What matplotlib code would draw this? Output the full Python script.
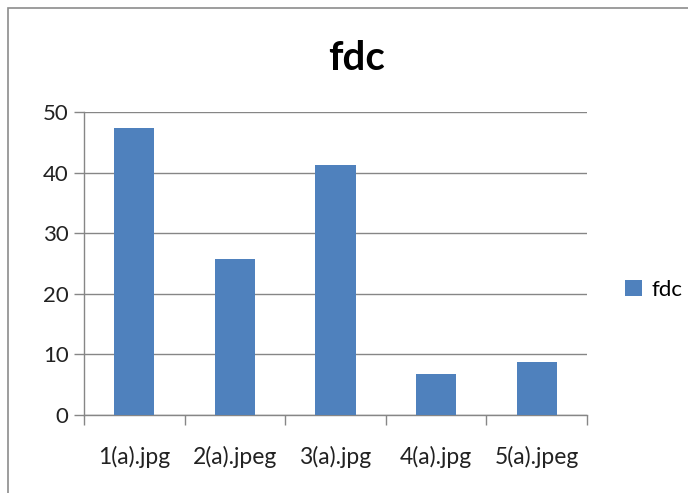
import numpy as np
import matplotlib.pyplot as plt
from matplotlib.patches import Rectangle

# data
categories = ['1(a).jpg', '2(a).jpeg', '3(a).jpg', '4(a).jpg', '5(a).jpeg']
fdc_values = [47.3, 25.8, 41.3, 6.7, 8.8]
y_ticks = [0, 10, 20, 30, 40, 50]

plt.rcParams['font.family'] = ['Lato', 'DejaVu Sans']

fig = plt.figure(figsize=(6.88, 4.93), dpi=100)
ax = fig.add_axes([84/688, 1 - 415/493, (587 - 84)/688, (415 - 112)/493])

# outer chart frame (cropped on the right and bottom like the source)
fig.patches.append(Rectangle((8/688, -0.05), 1.2, 1 - 8/493 + 0.05,
                             transform=fig.transFigure, fill=False,
                             edgecolor='#8c8c8c', lw=1.2))

x = np.arange(len(categories))
ax.bar(x, fdc_values, width=0.4, color='#4F81BD', label='fdc', zorder=3)

ax.set_xlim(-0.5, len(categories) - 0.5)
ax.set_ylim(0, 50)
ax.set_yticks(y_ticks)
ax.yaxis.grid(True, color='#868686', lw=1, zorder=0)

# category ticks sit between the bars
ax.set_xticks(np.arange(-0.5, len(categories)), minor=False)
ax.set_xticklabels([])
ax.set_xticks(x, minor=True)
ax.set_xticklabels(categories, minor=True, fontsize=16.5, color='#222222')
ax.tick_params(axis='x', which='minor', length=0, pad=22)
ax.tick_params(axis='x', which='major', length=7, color='#868686', width=1)
ax.tick_params(axis='y', length=7, color='#868686', width=1,
               labelsize=16, labelcolor='#222222', pad=4)

for side in ['top', 'right']:
    ax.spines[side].set_visible(False)
for side in ['left', 'bottom']:
    ax.spines[side].set_color('#868686')
    ax.spines[side].set_linewidth(1)

fig.text(357/688, 1 - 58/493, 'fdc', ha='center', va='center',
         fontsize=29, fontweight='bold')

fig.legend(loc='center left', bbox_to_anchor=(625/688, 1 - 290/493),
           frameon=False, fontsize=16, handlelength=0.75, handleheight=0.75,
           handletextpad=0.45, borderpad=0, borderaxespad=0)

fig.savefig('out.png', dpi=100)
